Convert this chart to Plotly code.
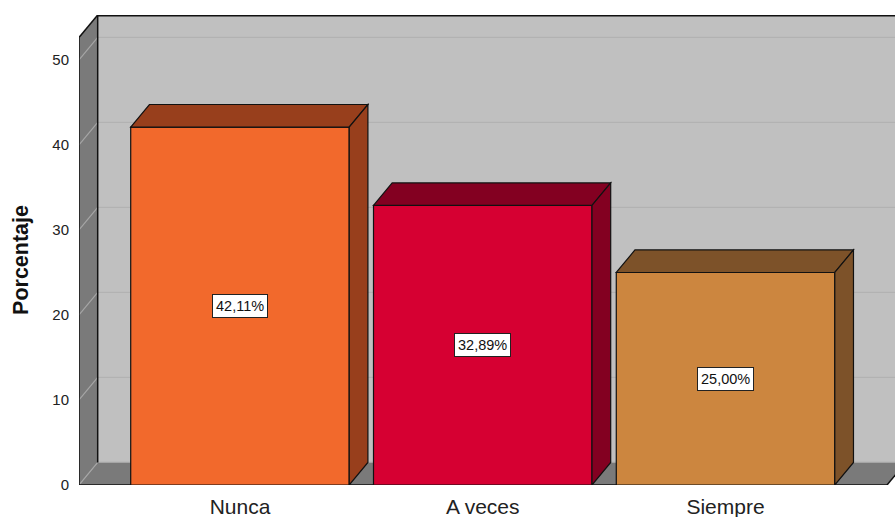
import plotly.graph_objects as go

# Data
categories = ["Nunca", "A veces", "Siempre"]
percentages = [42.11, 32.89, 25.00]
front_colors = ["#F2692C", "#D60032", "#CC863F"]
shade_colors = ["#983F1C", "#830021", "#7D5229"]
y_ticks = [0, 10, 20, 30, 40, 50]

# Pseudo-3D geometry (data units)
BAR_W = 0.9
DX = 0.077   # depth offset along x
DY = 2.65    # depth offset along y
X_MIN, X_MAX = -0.663, 2.698
X_FLOOR_END = 2.665
Y_MAX = 55.29

xs = list(range(len(categories)))

fig = go.Figure()

fig.add_trace(go.Bar(
    x=xs, y=percentages, width=BAR_W,
    marker=dict(color=front_colors, line=dict(color="#111111", width=1.2)),
    hoverinfo="skip",
))

shapes = []
WALL = "#C0C0C0"
SIDE = "#7A7A7A"

# back wall
shapes.append(dict(type="rect", xref="x", yref="y", layer="below",
                   x0=X_MIN + DX, x1=X_MAX + 0.2, y0=DY, y1=Y_MAX + 1,
                   fillcolor=WALL, line=dict(width=0)))
# left wall
shapes.append(dict(type="path", xref="x", yref="y", layer="below",
                   path=f"M{X_MIN},0 L{X_MIN + DX},{DY} L{X_MIN + DX},{Y_MAX} L{X_MIN},{Y_MAX - DY} Z",
                   fillcolor=SIDE, line=dict(width=0)))
# floor
shapes.append(dict(type="path", xref="x", yref="y", layer="below",
                   path=f"M{X_MIN},0 L{X_FLOOR_END},0 L{X_FLOOR_END + DX},{DY} L{X_MIN + DX},{DY} Z",
                   fillcolor=SIDE, line=dict(width=0)))

# gridlines on back wall and left wall
for v in y_ticks:
    if v > 0:
        shapes.append(dict(type="line", xref="x", yref="y", layer="below",
                           x0=X_MIN + DX, x1=X_MAX + 0.2, y0=v + DY, y1=v + DY,
                           line=dict(color="#B2B2B2", width=1.2)))
    shapes.append(dict(type="line", xref="x", yref="y", layer="below",
                       x0=X_MIN, x1=X_MIN + DX, y0=v, y1=v + DY,
                       line=dict(color="#A6A6A6", width=1.2)))
shapes.append(dict(type="line", xref="x", yref="y", layer="below",
                   x0=X_MIN + DX, x1=X_MAX + 0.2, y0=DY, y1=DY,
                   line=dict(color="#A6A6A6", width=1.2)))

# frame edges
edge = dict(color="#111111", width=1.5)
shapes += [
    dict(type="line", xref="x", yref="y", layer="below",
         x0=X_MIN + DX, x1=X_MIN + DX, y0=DY, y1=Y_MAX, line=edge),
    dict(type="line", xref="x", yref="y", layer="below",
         x0=X_MIN + DX, x1=X_MAX + 0.2, y0=Y_MAX - 0.1, y1=Y_MAX - 0.1, line=edge),
    dict(type="line", xref="x", yref="y", layer="below",
         x0=X_MIN, x1=X_MIN, y0=0, y1=Y_MAX - DY, line=edge),
    dict(type="line", xref="x", yref="y", layer="below",
         x0=X_MIN, x1=X_MIN + DX, y0=Y_MAX - DY, y1=Y_MAX, line=edge),
    dict(type="line", xref="x", yref="y", layer="below",
         x0=X_MIN, x1=X_FLOOR_END, y0=0, y1=0, line=edge),
    dict(type="line", xref="x", yref="y", layer="below",
         x0=X_FLOOR_END, x1=X_FLOOR_END + DX, y0=0, y1=DY, line=edge),
]

# bar tops and sides
for i, v in enumerate(percentages):
    xl, xr = i - BAR_W / 2, i + BAR_W / 2
    shapes.append(dict(type="path", xref="x", yref="y",
                       path=f"M{xl},{v} L{xl + DX},{v + DY} L{xr + DX},{v + DY} L{xr},{v} Z",
                       fillcolor=shade_colors[i], line=dict(color="#111111", width=1.2)))
    shapes.append(dict(type="path", xref="x", yref="y",
                       path=f"M{xr},0 L{xr},{v} L{xr + DX},{v + DY} L{xr + DX},{DY} Z",
                       fillcolor=shade_colors[i], line=dict(color="#111111", width=1.2)))

annotations = []
for i, v in enumerate(percentages):
    annotations.append(dict(
        x=i, y=v / 2, xref="x", yref="y", showarrow=False,
        text=f"{v:.2f}%".replace(".", ","),
        font=dict(family="Liberation Sans, Arial", size=14.5, color="#111111"),
        bgcolor="white", bordercolor="#222222", borderwidth=1, borderpad=3,
    ))

# axis title, centred on the front edge of the left wall
annotations.append(dict(
    xref="paper", yref="paper", x=-0.071, y=0.479,
    xanchor="center", yanchor="middle", showarrow=False, textangle=-90,
    text="<b>Porcentaje</b>",
    font=dict(family="Liberation Sans, Arial", size=21.5, color="#111111"),
))

fig.update_layout(
    width=895, height=517,
    margin=dict(l=79, r=0, t=15, b=32, autoexpand=False),
    paper_bgcolor="white", plot_bgcolor="white",
    showlegend=False,
    shapes=shapes, annotations=annotations,
    font=dict(family="Liberation Sans, Arial", color="#222222"),
    xaxis=dict(range=[X_MIN, X_MAX], tickvals=xs, ticktext=categories,
               showgrid=False, zeroline=False, showline=False, automargin=False,
               ticks="outside", ticklen=3, tickcolor="rgba(0,0,0,0)",
               tickfont=dict(size=21, color="#222222")),
    yaxis=dict(range=[0, Y_MAX], tickvals=y_ticks, automargin=False,
               showgrid=False, zeroline=False, showline=False,
               ticks="outside", ticklen=6, tickcolor="rgba(0,0,0,0)",
               tickfont=dict(size=15, color="#222222")),
)

fig.write_html("out.html")
